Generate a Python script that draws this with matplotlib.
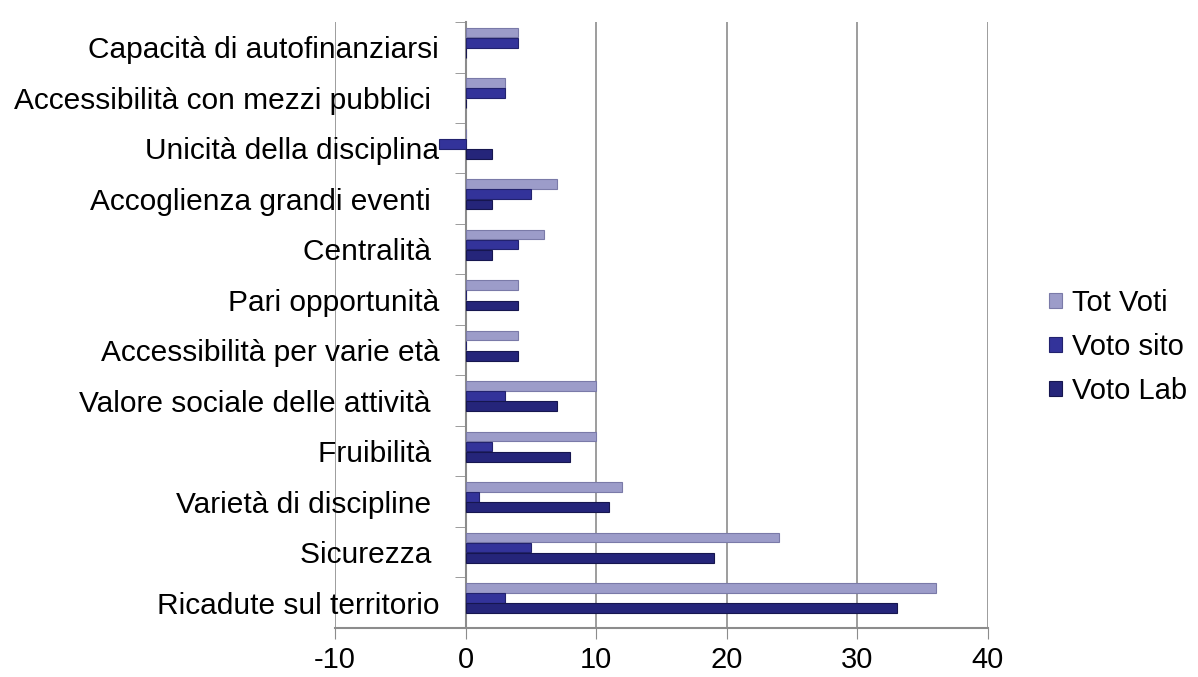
import matplotlib.pyplot as plt
import numpy as np

# categories from bottom to top (as drawn)
categories = [
    "Ricadute sul territorio",
    "Sicurezza ",
    "Varietà di discipline ",
    "Fruibilità ",
    "Valore sociale delle attività ",
    "Accessibilità per varie età",
    "Pari opportunità",
    "Centralità ",
    "Accoglienza grandi eventi ",
    "Unicità della disciplina",
    "Accessibilità con mezzi pubblici ",
    "Capacità di autofinanziarsi",
]
tot_voti = [36, 24, 12, 10, 10, 4, 4, 6, 7, 0, 3, 4]
voto_sito = [3, 5, 1, 2, 3, 0, 0, 4, 5, -2, 3, 4]
voto_lab = [33, 19, 11, 8, 7, 4, 4, 2, 2, 2, 0, 0]

plt.rcParams['font.family'] = ['Liberation Sans', 'DejaVu Sans']

fig = plt.figure(figsize=(11.98, 6.77), dpi=100)
ax = fig.add_axes([0.2796, 0.0724, 0.8247 - 0.2796, 0.9675 - 0.0724])

y = np.arange(len(categories))
h = 0.19
ax.barh(y + 0.29, tot_voti, height=h, color='#9c9cc9', edgecolor='#7a7aa8', linewidth=0.8, label='Tot Voti', zorder=3)
ax.barh(y + 0.09, voto_sito, height=h, color='#33339a', edgecolor='#22226e', linewidth=0.8, label='Voto sito', zorder=3)
ax.barh(y - 0.11, voto_lab, height=h, color='#25257a', edgecolor='#16164f', linewidth=0.8, label='Voto Lab', zorder=3)

# move the category axis to x = 0 (this resets the ticks, so style them afterwards)
ax.spines['left'].set_position(('data', 0))

ax.set_xlim(-10, 40)
ax.set_ylim(-0.5, len(categories) - 0.5)
ax.set_xticks([-10, 0, 10, 20, 30, 40])
ax.set_xticklabels(['-10', '0', '10', '20', '30', '40'])
ax.set_yticks(y)
ax.set_yticklabels(categories)
ax.set_yticks(np.arange(len(categories) + 1) - 0.5, minor=True)

ax.tick_params(axis='y', which='major', length=0, pad=19, labelsize=21.5)
ax.tick_params(axis='y', which='minor', length=8, color='#8c8c8c', direction='out')
ax.tick_params(axis='x', length=8, color='#8c8c8c', pad=5, labelsize=21)

ax.grid(axis='x', color='#8c8c8c', linewidth=1.2, zorder=0)
for s in ['left', 'bottom']:
    ax.spines[s].set_color('#8c8c8c')
    ax.spines[s].set_linewidth(1.5)
ax.spines['top'].set_visible(False)
ax.spines['right'].set_visible(False)

fig.legend(loc='center left', bbox_to_anchor=(0.876, 0.488), frameon=False,
           fontsize=21, handlelength=0.42, handleheight=0.42, handletextpad=0.35,
           labelspacing=0.55, borderpad=0, borderaxespad=0)

fig.savefig('out.png', dpi=100)
